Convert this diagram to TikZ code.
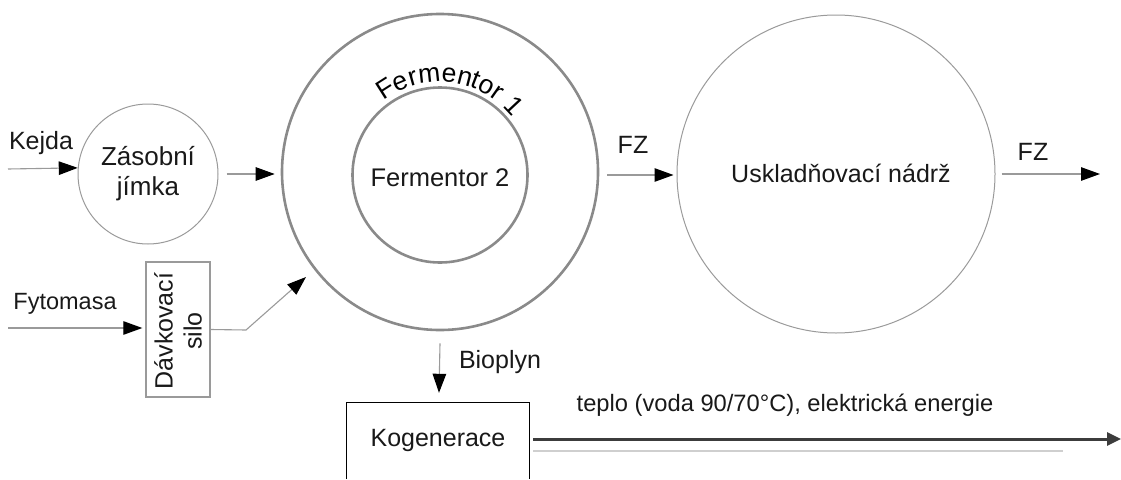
\documentclass[tikz,border=0pt]{standalone}
\usepackage{fontspec}
\setmainfont{Liberation Sans}
\usetikzlibrary{arrows.meta,decorations.text,calc}

\definecolor{rim}{HTML}{8A8A8A}
\definecolor{thin}{HTML}{9A9A9A}
\definecolor{dark}{HTML}{3C3C3C}
\definecolor{pale}{HTML}{CFCFCF}

\begin{document}
\begin{tikzpicture}[x=1pt,y=-1pt,
  every node/.style={font=\fontsize{25}{29}\selectfont, text=black!90},
  thickvessel/.style={circle, draw=rim, line width=2.6pt, inner sep=0pt, align=center},
  thinvessel/.style={circle, draw=thin, line width=1pt, inner sep=0pt, align=center},
  flow/.style={draw=thin, line width=1.1pt, -{Triangle[length=19pt,width=13.5pt,fill=black,color=black]}},
  plain/.style={inner sep=0pt, align=center}
]
\useasboundingbox (0,0) rectangle (1121,479);

% vessels
\node[thinvessel, minimum size=140pt, font=\fontsize{26}{30}\selectfont] (zas) at (148,174) {Zásobní\\jímka};
\node[thickvessel, minimum size=316pt] (f1) at (440,172) {};
\node[thickvessel, minimum size=175pt] (f2) at (440,175) {};
\node[plain, font=\fontsize{25.5}{30}\selectfont] (f2t) at (440,178) {Fermentor 2};
\node[thinvessel, minimum size=318pt] (usk) at (836,174) {};
\node[plain] (uskt) at (841,173) {Uskladňovací nádrž};

% curved label of the outer fermentor
\path[decorate, decoration={text along path, text align=center,
  text={|\fontsize{26.5}{30}\selectfont|Fermentor 1}}]
  (440,175) ++(-136:93) arc[start angle=-136, end angle=-30, radius=93];

% dosing silo
\node[draw=thin, line width=1.4pt, minimum width=64pt, minimum height=135pt, inner sep=0pt] (silo) at (178,329.5) {};
\node[plain, rotate=90] (silot) at (178,331) {Dávkovací\\silo};

% cogeneration unit (open at the bottom)
\node[minimum width=182pt, minimum height=76pt, inner sep=0pt] (kog) at (438,441) {};
\node[plain] (kogt) at (438,440) {Kogenerace};
\draw[thin, line width=1.2pt] (kog.south west) -- (kog.north west) -- (kog.north east) -- (kog.south east);

% input flows
\coordinate (kin) at (8,169);
\coordinate (fin) at (8,328);
\node[plain] (kejda) at (41,143) {Kejda};
\node[plain, font=\fontsize{23.5}{28}\selectfont] (fyto) at (65,304) {Fytomasa};
\draw[flow] (kin) -- (zas.175);
\draw[flow] (fin) -- ($(silo.west)+(-3,-1.5)$);
\draw[flow] ($(zas.east)+(8,0)$) -- ($(f1.west)+(-6,2)$);
\coordinate (bend) at (246,330);
\coordinate (sin) at (306,277);
\draw[flow] (silo.east) -- (bend) -- (sin);

% digestate
\draw[flow] ($(f1.east)+(8,3)$) -- ($(usk.west)+(-3,1)$);
\node[plain] (fz1) at (633,145) {FZ};
\coordinate (fzout) at (1100,174);
\draw[flow] ($(usk.east)+(6,0)$) -- (fzout);
\node[plain] (fz2) at (1033,152) {FZ};

% biogas
\draw[flow] ($(f1.south)+(0,12)$) -- ($(kog.north)+(1,-10)$);
\node[plain] (bio) at (500,362) {Bioplyn};

% energy output
\coordinate (eout) at (1121,439);
\coordinate (pale end) at (1063,451);
\draw[dark, line width=3pt, -{Triangle[length=14pt,width=13pt]}] ($(kog.east)+(4,-2)$) -- (eout);
\draw[pale, line width=2pt] ($(kog.east)+(4,10)$) -- (pale end);
\node[plain, font=\fontsize{23.7}{28}\selectfont] (energ) at (785,405) {teplo (voda 90/70°C), elektrická energie};
\end{tikzpicture}
\end{document}
